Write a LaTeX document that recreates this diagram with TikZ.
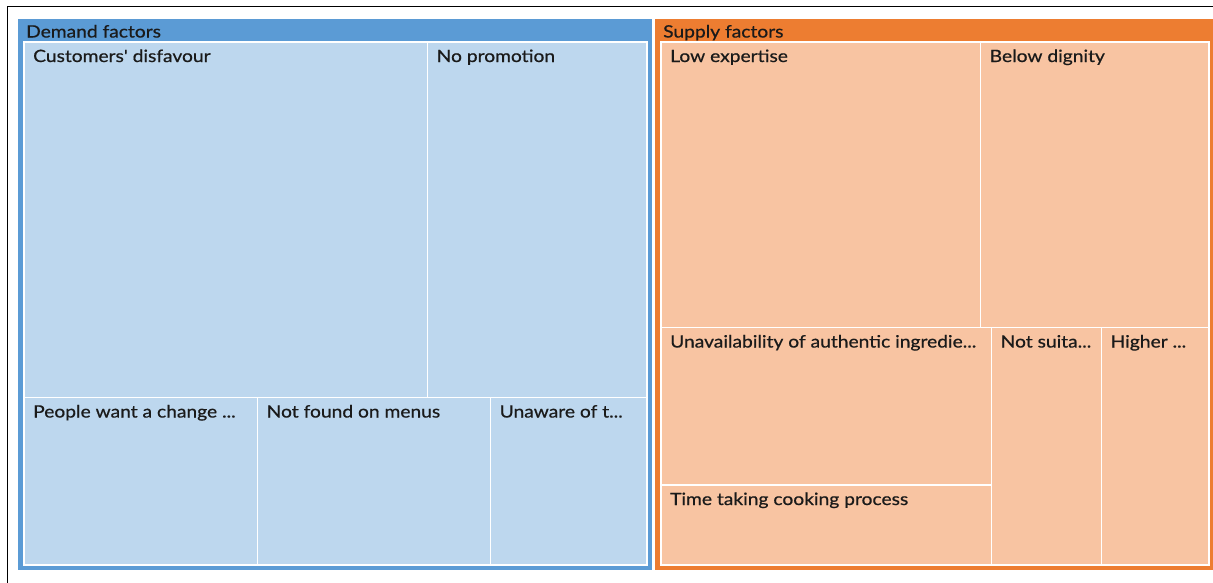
\documentclass[tikz,border=0pt]{standalone}
\usepackage{fontspec}
\setmainfont{Lato}[FakeStretch=1.13,FakeBold=0.6,Ligatures=TeXOff]
\definecolor{dblue}{HTML}{5B9BD5}
\definecolor{lblue}{HTML}{BDD7EE}
\definecolor{dorange}{HTML}{ED7D31}
\definecolor{lorange}{HTML}{F8C4A2}
\definecolor{txt}{HTML}{1A1A1A}
\tikzset{
  cellbox/.style={draw=white,line width=1.5pt},
  lbl/.style={anchor=base west,inner sep=0pt,font=\fontsize{17}{20}\selectfont,text=txt},
}
\newcommand{\tmcell}[7]{%
  \path[cellbox,fill=#5] (#1,#2) rectangle (#3,#4);
  \node[lbl] (#7) at (#1+9,#2+20) {#6};
}
\begin{document}
\begin{tikzpicture}[x=1pt,y=-1pt]
\useasboundingbox (0,0) rectangle (1213,582);
\begin{scope}
\clip (0,0) rectangle (1213,582);
\fill[white] (0,0) rectangle (1213,582);
\draw[black,line width=1.5pt] (7.5,6.5) rectangle (1230,600);
% demand
\fill[dblue] (18,19) rectangle (652,570);
\node[lbl] (demand) at (26,37.5) {Demand factors};
\tmcell{24}{42}{427.5}{397.5}{lblue}{Customers' disfavour}{c1}
\tmcell{427.5}{42}{647}{397.5}{lblue}{No promotion}{c2}
\tmcell{24}{397.5}{257.5}{565}{lblue}{People want a change ...}{c3}
\tmcell{257.5}{397.5}{490.5}{565}{lblue}{Not found on menus}{c4}
\tmcell{490.5}{397.5}{647}{565}{lblue}{Unaware of t...}{c5}
% supply
\fill[dorange] (655,19) rectangle (1213,570);
\node[lbl] (supply) at (663,37.5) {Supply factors};
\tmcell{661}{42}{980.5}{327.5}{lorange}{Low expertise}{s1}
\tmcell{980.5}{42}{1209}{327.5}{lorange}{Below dignity}{s2}
\tmcell{661}{327.5}{991.5}{485}{lorange}{Unavailability of authentic ingredie...}{s3}
\tmcell{661}{485}{991.5}{565}{lorange}{Time taking cooking process}{s4}
\tmcell{991.5}{327.5}{1101.5}{565}{lorange}{Not suita...}{s5}
\tmcell{1101.5}{327.5}{1209}{565}{lorange}{Higher ...}{s6}
\end{scope}
\end{tikzpicture}
\end{document}
